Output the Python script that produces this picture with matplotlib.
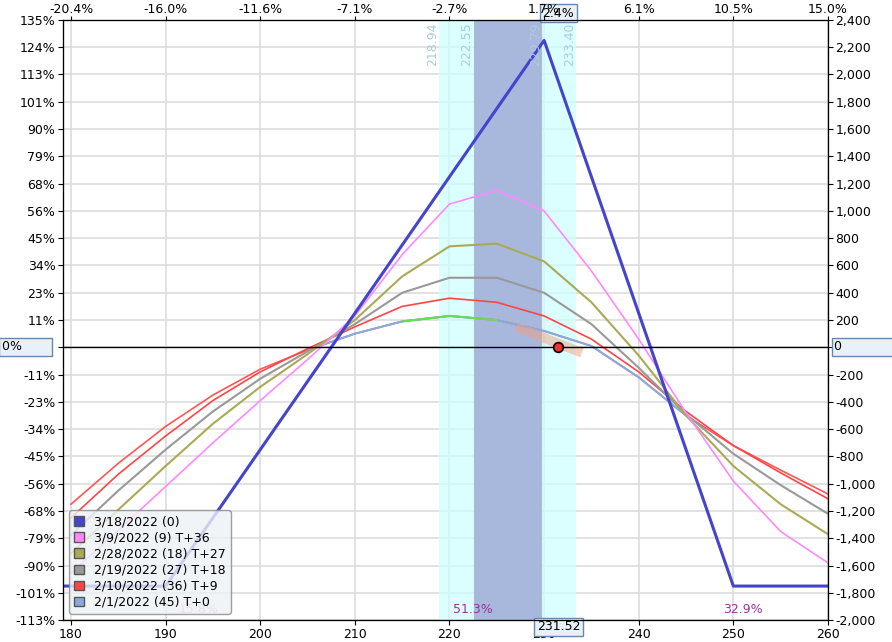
import matplotlib.pyplot as plt

# underlying price grid (every 5 points) and P/L
prices = [180, 185, 190, 195, 200, 205, 210, 215, 220, 225, 230, 235, 240, 245, 250, 255, 260]
t0 = [-1150, -850, -580, -350, -160, -20, 100, 190, 230, 200, 120, 10, -220, -500, -720, -900, -1075]
t9 = [-1250, -930, -650, -390, -180, -10, 150, 300, 360, 330, 230, 60, -180, -470, -720, -920, -1110]
t18 = [-1375, -1050, -750, -470, -230, -30, 170, 400, 510, 510, 400, 170, -150, -490, -780, -1010, -1220]
t27 = [-1510, -1190, -870, -560, -290, -50, 200, 520, 740, 760, 630, 330, -60, -500, -870, -1150, -1370]
t36 = [-1655, -1340, -1020, -700, -390, -90, 230, 680, 1050, 1150, 1000, 560, 60, -480, -980, -1350, -1580]
expiry_x = [179, 190, 230, 250, 260]
expiry_y = [-1750, -1750, 2250, -1750, -1750]

labels = ["3/18/2022 (0)", "3/9/2022 (9) T+36", "2/28/2022 (18) T+27",
          "2/19/2022 (27) T+18", "2/10/2022 (36) T+9", "2/1/2022 (45) T+0"]
colors = ["#4444cc", "#ff88ff", "#aaaa55", "#999999", "#ff4444", "#88aadd"]

top_ticks = [180, 190, 200, 210, 220, 230, 240, 250, 260]
top_labels = ["-20.4%", "-16.0%", "-11.6%", "-7.1%", "-2.7%", "1.7%", "6.1%", "10.5%", "15.0%"]
sd1 = (218.94, 233.40)
sd_half = (222.55, 229.79)
spot = 231.52

fig = plt.figure(figsize=(8.92, 6.42), dpi=100)
ax = fig.add_axes([0.0706, 0.034, 0.8576, 0.935])
ax.set_xlim(179.15, 260)
ax.set_ylim(-2000, 2400)

ax.axvspan(*sd1, color="#ccffff", alpha=0.7, lw=0)
ax.axvspan(*sd_half, color="#a8b8dd", lw=0)
ax.set_axisbelow(True)
ax.grid(color="#dddddd", lw=1.2)

ax.plot(prices, t0, color="#ff5555", lw=1.2)
mid = [i for i, p in enumerate(prices) if 205 <= p <= 245]
ax.plot([prices[i] for i in mid], [t0[i] for i in mid], color="#88aadd", lw=1.5)
grn = [i for i, p in enumerate(prices) if 215 <= p <= 225]
ax.plot([prices[i] for i in grn], [t0[i] for i in grn], color="#66dd55", lw=1.5)
ax.plot(prices, t9, color="#ff4444", lw=1.2)
ax.plot(prices, t18, color="#999999", lw=1.5)
ax.plot(prices, t27, color="#aaaa55", lw=1.5)
ax.plot(prices, t36, color="#ff88ff", lw=1.2)
ax.plot(expiry_x, expiry_y, color="#4444cc", lw=2.2)
ax.plot([227, 234], [150, -40], color="#f0a080", lw=7, alpha=0.5, solid_capstyle="butt")
ax.axhline(0, color="black", lw=1)
ax.plot(spot, 0, "o", ms=7, mfc="#ee3333", mec="black", mew=1.2)

for v in [*sd1, *sd_half]:
    ax.text(v, 2380, f"{v:.2f}", rotation=90, va="top", ha="right",
            color="#aaccdd", fontsize=9)
ax.text(193.5, -1950, "15.8%", color="#dd99dd", ha="center", fontsize=9)
ax.text(222.5, -1950, "51.3%", color="#993399", ha="center", fontsize=9)
ax.text(251, -1950, "32.9%", color="#993399", ha="center", fontsize=9)

yt = list(range(-2000, 2401, 200))
ax.set_yticks(yt)
ax.set_yticklabels(["" if v == 0 else f"{round(v * 0.05636)}%" for v in yt], fontsize=9)
ax.set_xticks(range(180, 261, 10))
ax.tick_params(labelsize=9, pad=2)
ax2 = ax.twinx()
ax2.set_ylim(ax.get_ylim())
ax2.set_yticks(yt)
ax2.set_yticklabels(["" if v == 0 else f"{v:,}" for v in yt], fontsize=9)
ax2.tick_params(pad=2)
ax3 = ax.twiny()
ax3.set_xlim(ax.get_xlim())
ax3.set_xticks(top_ticks)
ax3.set_xticklabels(top_labels, fontsize=9)
ax3.tick_params(pad=0, length=3)

box = dict(boxstyle="square,pad=0.2", fc="#e8f0f8", ec="#6688aa")
ax.text(spot, -2000, "231.52", ha="center", va="top", fontsize=9, bbox=box, zorder=10)
ax.text(spot, 2400, "2.4%", ha="center", va="bottom", fontsize=9, bbox=box, zorder=10)
fig.text(0.002, 1 - 347 / 642, "0%       ", va="center", fontsize=9, bbox=box)
fig.text(0.935, 1 - 347 / 642, "0              ", va="center", fontsize=9, bbox=box)

handles = [plt.Rectangle((0, 0), 1, 1, fc=c, ec="#555555") for c in colors]
ax.legend(handles, labels, loc="lower left", fontsize=9, frameon=True,
          facecolor="#eef2f6", edgecolor="#888888", handlelength=0.8,
          handleheight=0.8, labelspacing=0.25, bbox_to_anchor=(0.0, 0.0))

fig.savefig("out.png", dpi=100)
